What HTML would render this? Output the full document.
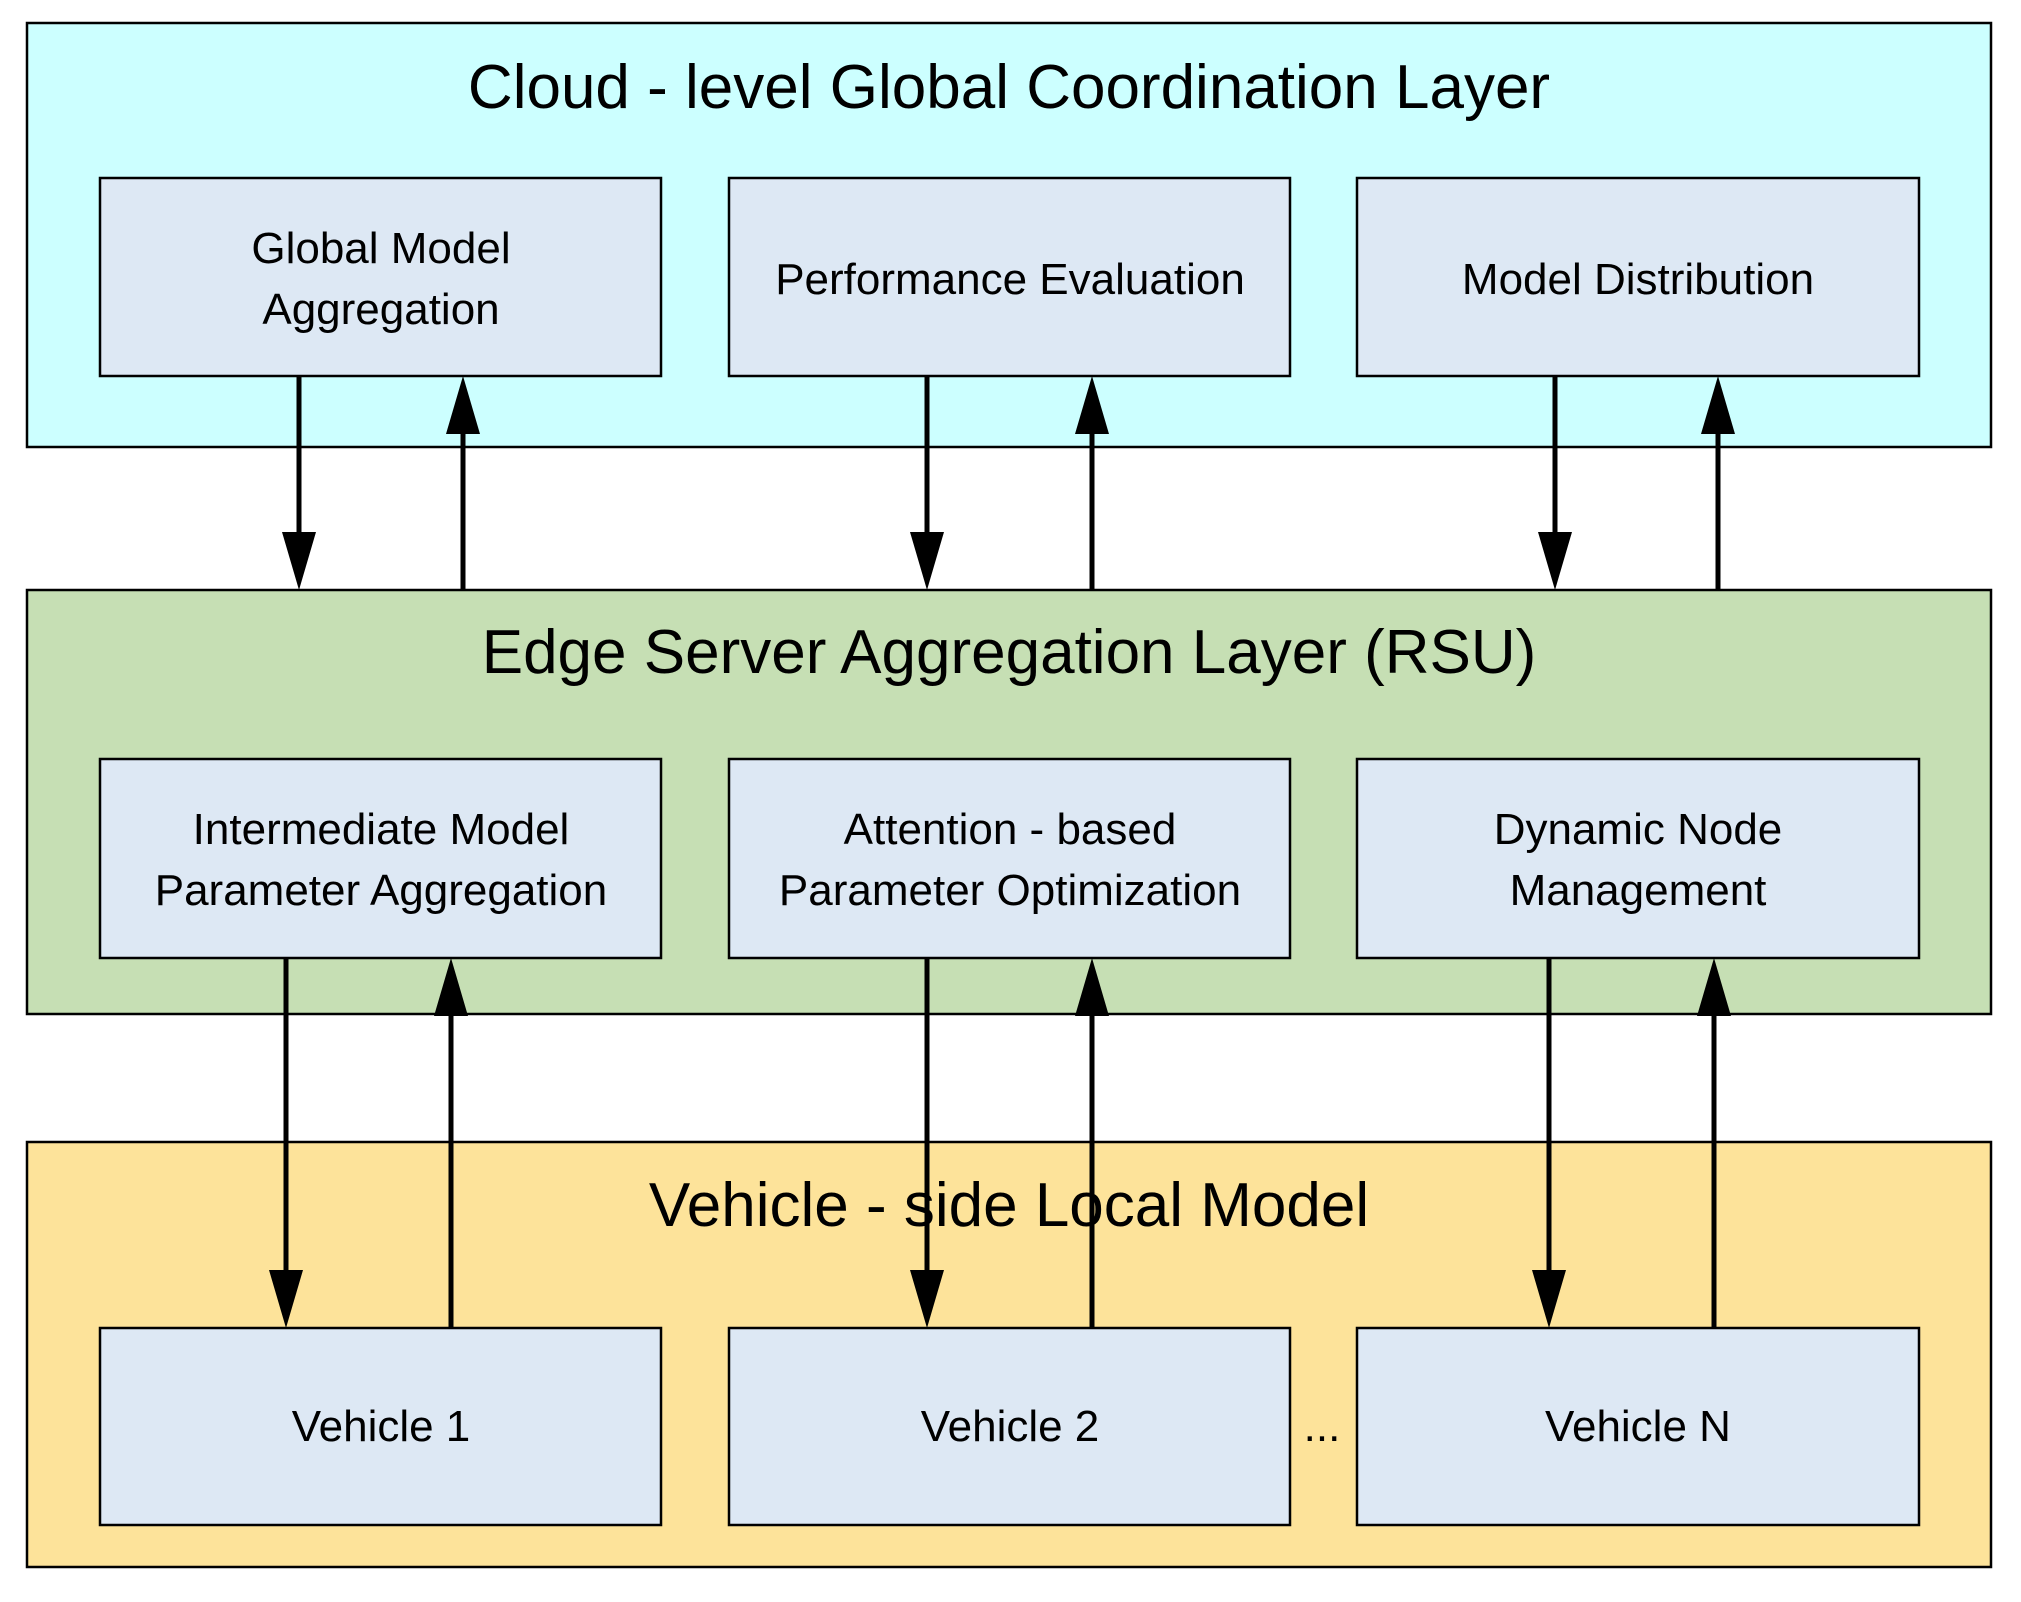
<!DOCTYPE html>
<html><head><meta charset="utf-8"><style>html,body{margin:0;padding:0;background:#fff}svg{display:block}text{font-family:"Liberation Sans",sans-serif;fill:#000}</style></head><body>
<svg width="2021" height="1602" viewBox="0 0 2021 1602" xmlns="http://www.w3.org/2000/svg">
<g stroke="#000" stroke-width="2.5">
<rect x="27" y="23" width="1964" height="424" fill="#ccffff"/>
<rect x="27" y="590" width="1964" height="424" fill="#c6dfb4"/>
<rect x="27" y="1142" width="1964" height="425" fill="#fde39a"/>
<g fill="#dde8f4">
<rect x="100" y="178" width="561" height="198"/><rect x="729" y="178" width="561" height="198"/><rect x="1357" y="178" width="562" height="198"/>
<rect x="100" y="759" width="561" height="199"/><rect x="729" y="759" width="561" height="199"/><rect x="1357" y="759" width="562" height="199"/>
<rect x="100" y="1328" width="561" height="197"/><rect x="729" y="1328" width="561" height="197"/><rect x="1357" y="1328" width="562" height="197"/>
</g></g>
<g stroke="#000" stroke-width="5" fill="none">
<line x1="299" y1="376" x2="299" y2="540"/>
<line x1="463" y1="590" x2="463" y2="420"/>
<line x1="927" y1="376" x2="927" y2="540"/>
<line x1="1092" y1="590" x2="1092" y2="420"/>
<line x1="1555" y1="376" x2="1555" y2="540"/>
<line x1="1718" y1="590" x2="1718" y2="420"/>
<line x1="286" y1="958" x2="286" y2="1280"/>
<line x1="451" y1="1328" x2="451" y2="1000"/>
<line x1="927" y1="958" x2="927" y2="1280"/>
<line x1="1092" y1="1328" x2="1092" y2="1000"/>
<line x1="1549" y1="958" x2="1549" y2="1280"/>
<line x1="1714" y1="1328" x2="1714" y2="1000"/>
</g>
<g fill="#000">
<polygon points="282,532 316,532 299,590"/>
<polygon points="910,532 944,532 927,590"/>
<polygon points="1538,532 1572,532 1555,590"/>
<polygon points="446,434 480,434 463,376"/>
<polygon points="1075,434 1109,434 1092,376"/>
<polygon points="1701,434 1735,434 1718,376"/>
<polygon points="269,1270 303,1270 286,1328"/>
<polygon points="910,1270 944,1270 927,1328"/>
<polygon points="1532,1270 1566,1270 1549,1328"/>
<polygon points="434,1016 468,1016 451,958"/>
<polygon points="1075,1016 1109,1016 1092,958"/>
<polygon points="1697,1016 1731,1016 1714,958"/>
</g>
<g text-anchor="middle" font-size="62">
<text x="1009" y="108">Cloud - level Global Coordination Layer</text>
<text x="1009" y="673">Edge Server Aggregation Layer (RSU)</text>
<text x="1009" y="1226">Vehicle - side Local Model</text>
</g>
<g text-anchor="middle" font-size="44">
<text x="381" y="263">Global Model</text><text x="381" y="324">Aggregation</text>
<text x="1010" y="294">Performance Evaluation</text>
<text x="1638" y="294">Model Distribution</text>
<text x="381" y="844">Intermediate Model</text><text x="381" y="905">Parameter Aggregation</text>
<text x="1010" y="844">Attention - based</text><text x="1010" y="905">Parameter Optimization</text>
<text x="1638" y="844">Dynamic Node</text><text x="1638" y="905">Management</text>
<text x="381" y="1441">Vehicle 1</text>
<text x="1010" y="1441">Vehicle 2</text>
<text x="1638" y="1441">Vehicle N</text>
<text x="1322" y="1441">...</text>
</g>
</svg>
</body></html>
